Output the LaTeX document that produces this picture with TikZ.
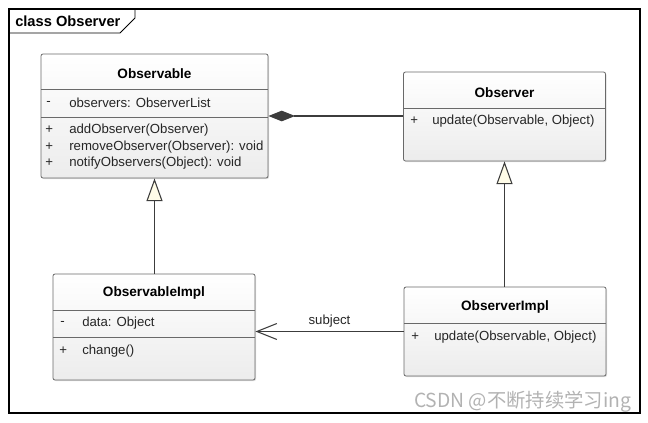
\documentclass[tikz,border=0pt]{standalone}
\usepackage{fontspec}
\setmainfont{Liberation Sans}
\newfontfamily\cjk{Noto Sans CJK SC}
\usetikzlibrary{arrows.meta,positioning,calc,shadows}
\definecolor{umlline}{RGB}{60,60,60}
\definecolor{umlborder}{RGB}{105,105,105}
\definecolor{umlfill}{RGB}{236,236,236}
\definecolor{umlcream}{RGB}{255,252,232}

\begin{document}
\begin{tikzpicture}[x=0.75pt,y=-0.75pt,
  classbox/.style={draw=umlborder,line width=0.6pt,rounded corners=1.5pt,
    top color=white,bottom color=umlfill,inner sep=0pt,
    drop shadow={shadow xshift=0.8pt,shadow yshift=-0.8pt,opacity=0.25}},
  cname/.style={font=\fontsize{10.2}{12}\selectfont\bfseries,inner sep=0pt},
  member/.style={font=\fontsize{9.9}{12}\selectfont,text=black!85,inner sep=0pt,anchor=west},
  divider/.style={draw=umlborder,line width=0.6pt},
  inherit/.style={draw=umlline,line width=0.8pt,-{Triangle[length=17pt,width=12pt,fill=umlcream]}},
  compose/.style={draw=umlline,line width=0.8pt,{Diamond[length=20pt,width=8pt]}-},
  assoc/.style={draw=umlline,line width=0.8pt,-{Straight Barb[length=15pt,width=12pt]}}]
\useasboundingbox (0,0) rectangle (648,422);
% frame
\draw[line width=0.9pt] (9,9) rectangle (640,413);
\draw[line width=0.6pt] (9,33) -- (120,33) -- (135,18) -- (135,9);
\node[cname,font=\fontsize{11}{13}\selectfont\bfseries,anchor=west] (frametitle) at (15,21) {class Observer};

% Observable
\node[classbox,minimum width=170.25pt,minimum height=93pt] (obs) at (154.5,116) {};
\node[cname] (obsT) at (154.5,74) {Observable};
\draw[divider] (41,89) -- (268,89);
\draw[divider] (41,117) -- (268,117);
\node[member] (obsV1) at (46,103) {-};
\node[member] (obsA1) at (69,103) {observers: ObserverList};
\foreach \y/\t in {130/{addObserver(Observer)},147/{removeObserver(Observer): void},163/{notifyObservers(Object): void}}{
  \node[member] (obsV\y) at (45,\y) {+};
  \node[member] (obsO\y) at (69,\y) {\t};
}

% Observer
\node[classbox,minimum width=151.5pt,minimum height=66.75pt] (obsr) at (504.5,116.5) {};
\node[cname] (obsrT) at (504.5,93) {Observer};
\draw[divider] (403,108) -- (605,108);
\node[member] (obsrV) at (410,121) {+};
\node[member] (obsrO) at (432,121) {update(Observable, Object)};

% ObservableImpl
\node[classbox,minimum width=151.5pt,minimum height=79.5pt] (obsimpl) at (154,327) {};
\node[cname] (obsimplT) at (154,293) {ObservableImpl};
\draw[divider] (53,310) -- (255,310);
\draw[divider] (53,337) -- (255,337);
\node[member] (obsimplV1) at (60,323) {-};
\node[member] (obsimplA1) at (82,323) {data: Object};
\node[member] (obsimplV2) at (59,351) {+};
\node[member] (obsimplO1) at (82,351) {change()};

% ObserverImpl
\node[classbox,minimum width=151.5pt,minimum height=66.75pt] (obsrimpl) at (505,331.5) {};
\node[cname] (obsrimplT) at (505,307) {ObserverImpl};
\draw[divider] (404,323) -- (606,323);
\node[member] (obsrimplV) at (411,337) {+};
\node[member] (obsrimplO) at (434,337) {update(Observable, Object)};

% relations
\draw[compose] (obs.east) -- (obs.east -| obsr.west);
\draw[inherit] (obsimpl.north -| obs.south) -- (obs.south);
\draw[inherit] (obsrimpl.north -| obsr.south) -- (obsr.south);
\draw[assoc] (obsrimpl.west) -- (obsrimpl.west -| obsimpl.east)
  node[midway,above=3pt,member,anchor=south] (subj) {subject};

% watermark
\node[font=\cjk\fontsize{14.5}{16}\selectfont,text=gray!60,anchor=east] (wm) at (636,402) {CSDN @不断持续学习ing};
\end{tikzpicture}
\end{document}
